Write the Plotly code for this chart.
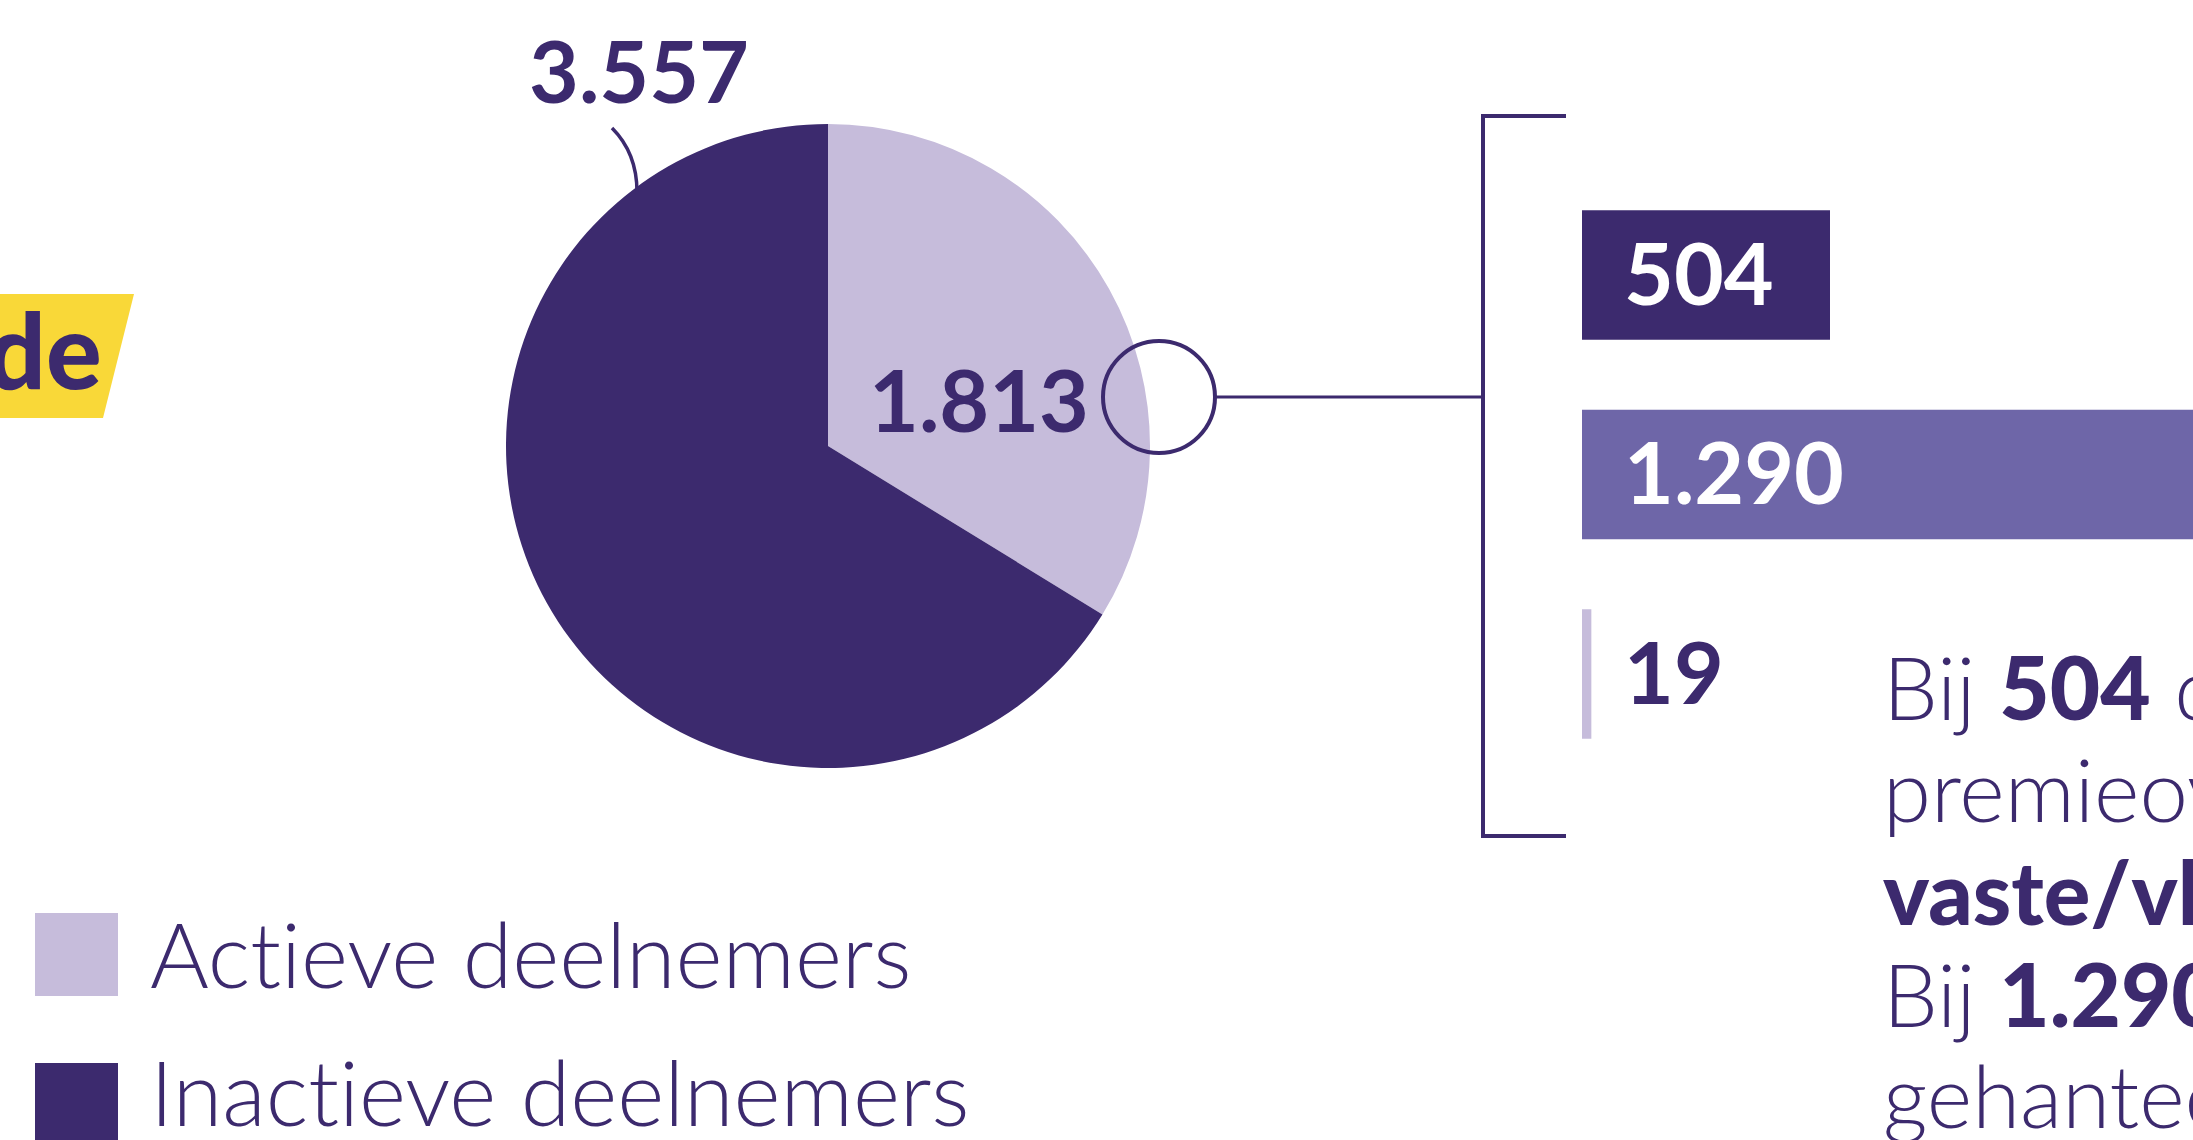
import plotly.graph_objects as go

# ---- data ----
pie_labels = ["Actieve deelnemers", "Inactieve deelnemers"]
pie_values = [1813, 3557]
bar_categories = ["Vaste/vlakke premie", "Staffelpremie", "Overig"]
bar_values = [504, 1290, 19]
title_fragment = "Opgebouwde"
B = '<span style="font-weight:900">'
E = '</span>'
paragraph_lines = [
    f"Bij {B}504{E} deelnemers is sprake van een",
    "premieovereenkomst met een",
    f"{B}vaste/vlakke premie{E}.",
    f"Bij {B}1.290{E} deelnemers wordt een staffel",
    "gehanteerd.",
]

# ---- style ----
W, H = 2193, 1140
DARK = "#3C2A6E"
LIGHT = "#C6BCDB"
MID = "#6E66A8"
YELLOW = "#F9D838"
FONT = "Lato"
ZWNJ = "\u200c"


def fx(x):
    return x / W


def fy(y):
    return 1 - y / H


def nl(v):
    return f"{v:,}".replace(",", ".")


def noliga(s):
    # avoid the Lato "ti" ligature
    return s.replace("ti", "t" + ZWNJ + "i")


fig = go.Figure()

# pie
cx, cy, r = 828, 446, 322
fig.add_trace(go.Pie(
    labels=pie_labels, values=pie_values, sort=False, direction="clockwise",
    rotation=0, marker=dict(colors=[LIGHT, DARK], line=dict(width=0)),
    textinfo="none", hoverinfo="none", showlegend=False,
    domain=dict(x=[fx(cx - r), fx(cx + r)], y=[fy(cy + r), fy(cy - r)]),
))

# bars
bar_colors = [DARK, MID, LIGHT]
px_per_unit = 248 / 504
x0_px = 1582
fig.add_trace(go.Bar(
    x=bar_values, y=bar_categories, orientation="h", width=0.65,
    marker=dict(color=bar_colors, line=dict(width=0)),
    hoverinfo="none", showlegend=False, cliponaxis=True,
))

fig.update_layout(
    width=W, height=H, margin=dict(l=0, r=0, t=0, b=0),
    paper_bgcolor="white", plot_bgcolor="rgba(0,0,0,0)",
    xaxis=dict(domain=[fx(x0_px), 1], range=[0, (W - x0_px) / px_per_unit],
               visible=False, fixedrange=True),
    yaxis=dict(domain=[fy(773.75), fy(175.25)], range=[2.5, -0.5],
               type="category", visible=False, fixedrange=True),
    font=dict(family=FONT, color=DARK),
    showlegend=False,
)

LW = 4
shapes = [
    # yellow title tag
    dict(type="path", xref="paper", yref="paper", layer="below",
         path=f"M {fx(-5)},{fy(294)} L {fx(134)},{fy(294)} L {fx(103)},{fy(418)} L {fx(-5)},{fy(418)} Z",
         fillcolor=YELLOW, line=dict(width=0)),
    # leader for 3.557
    dict(type="path", xref="paper", yref="paper",
         path=f"M {fx(612)},{fy(128)} Q {fx(637)},{fy(153)} {fx(637)},{fy(192)}",
         line=dict(color=DARK, width=3.5)),
    # circle marker
    dict(type="circle", xref="paper", yref="paper",
         x0=fx(1103), x1=fx(1215), y0=fy(453), y1=fy(341),
         line=dict(color=DARK, width=LW), fillcolor="rgba(0,0,0,0)"),
    # connector
    dict(type="line", xref="paper", yref="paper",
         x0=fx(1215), x1=fx(1483), y0=fy(397), y1=fy(397),
         line=dict(color=DARK, width=3)),
    # bracket
    dict(type="path", xref="paper", yref="paper",
         path=f"M {fx(1566)},{fy(116)} L {fx(1483)},{fy(116)} L {fx(1483)},{fy(836)} L {fx(1566)},{fy(836)}",
         line=dict(color=DARK, width=LW)),
    # legend squares
    dict(type="rect", xref="paper", yref="paper",
         x0=fx(35), x1=fx(118), y0=fy(996), y1=fy(913),
         fillcolor=LIGHT, line=dict(width=0)),
    dict(type="rect", xref="paper", yref="paper",
         x0=fx(35), x1=fx(118), y0=fy(1148), y1=fy(1063),
         fillcolor=DARK, line=dict(width=0)),
]
fig.update_layout(shapes=shapes)

ann = []
# title fragment
ann.append(dict(xref="paper", yref="paper", x=fx(104), y=fy(348), xanchor="right",
                yanchor="middle", text=title_fragment, showarrow=False,
                font=dict(family=FONT, size=104, color=DARK, weight=900)))
# pie values
ann.append(dict(xref="paper", yref="paper", x=fx(639), y=fy(70), xanchor="center",
                yanchor="middle", text=nl(pie_values[1]), showarrow=False,
                font=dict(family=FONT, size=86, color=DARK, weight=700)))
ann.append(dict(xref="paper", yref="paper", x=fx(979), y=fy(398), xanchor="center",
                yanchor="middle", text=nl(pie_values[0]), showarrow=False,
                font=dict(family=FONT, size=86, color=DARK, weight=700)))
# bar values
label_colors = ["white", "white", DARK]
for cat, v, c in zip(bar_categories, bar_values, label_colors):
    ann.append(dict(xref="x", yref="y", x=0, y=cat, xanchor="left", yanchor="middle",
                    xshift=40, yshift=4, text=nl(v), showarrow=False,
                    font=dict(family=FONT, size=86, color=c, weight=700)))
# paragraph
baselines = [720, 822, 925, 1027, 1128]
for line, b in zip(paragraph_lines, baselines):
    ann.append(dict(xref="paper", yref="paper", x=fx(1881), y=fy(b - 34),
                    xanchor="left", yanchor="middle", text=noliga(line), showarrow=False,
                    font=dict(family=FONT, size=87, color=DARK, weight=300)))
# legend
for lab, b in zip(pie_labels, [987, 1125]):
    ann.append(dict(xref="paper", yref="paper", x=fx(148), y=fy(b - 34),
                    xanchor="left", yanchor="middle", text=noliga(lab), showarrow=False,
                    font=dict(family=FONT, size=90, color=DARK, weight=300)))
fig.update_layout(annotations=ann)

fig.write_html("out.html", config=dict(displayModeBar=False, staticPlot=True))
